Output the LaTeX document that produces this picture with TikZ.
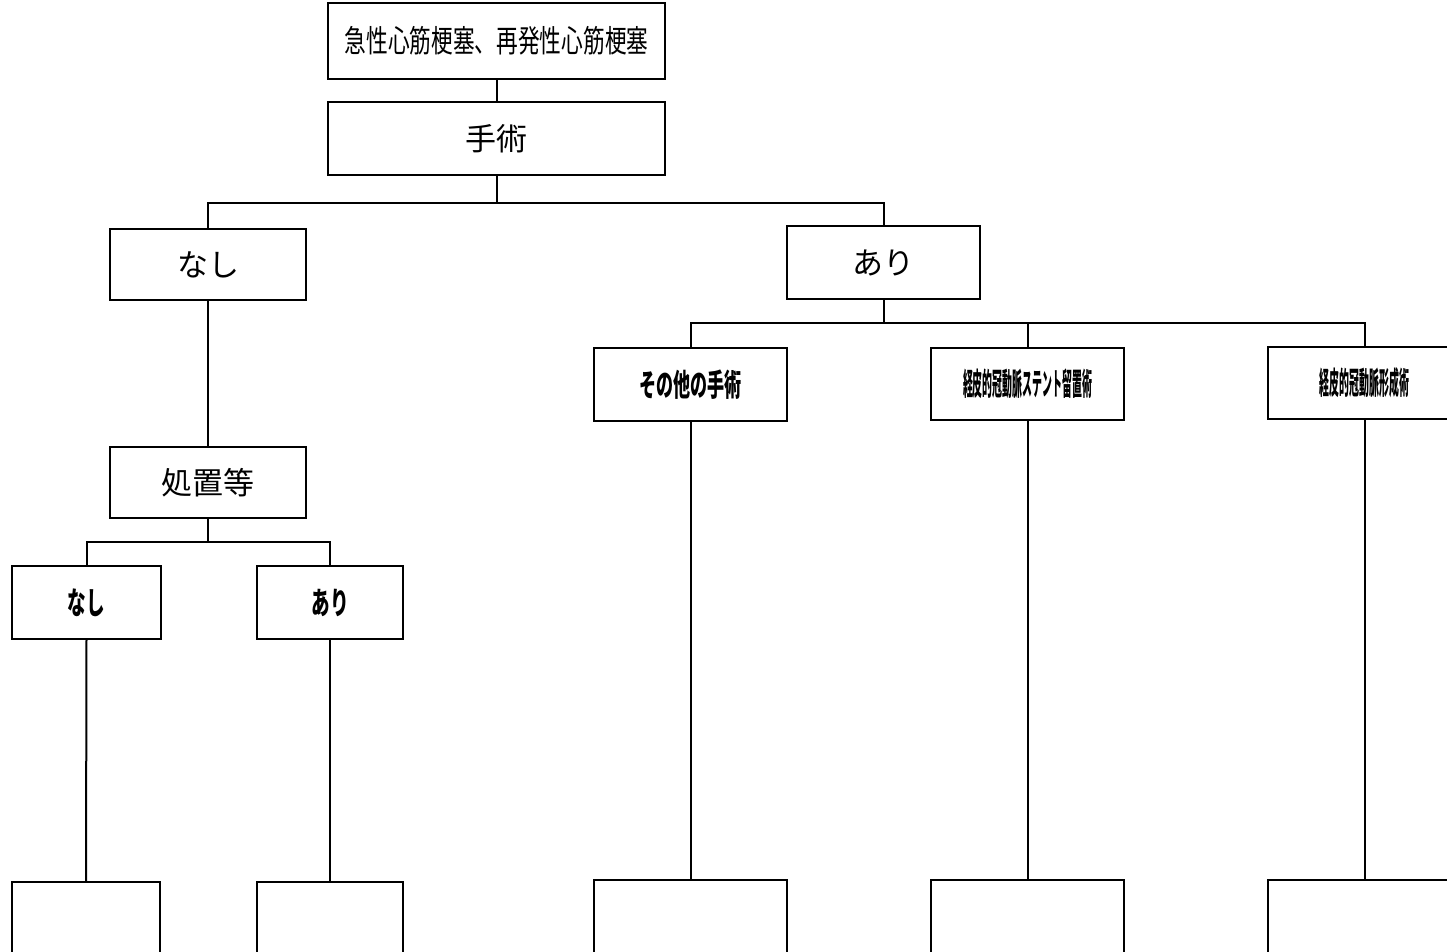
\documentclass[tikz,border=0pt]{standalone}
\usepackage{fontspec}
\newfontfamily\jp{Noto Sans CJK JP}
\begin{document}
\begin{tikzpicture}[x=1pt,y=-1pt,
  bx/.style={draw,line width=2pt,minimum width=#1,inner sep=0pt,font=\jp\fontsize{31}{31}\selectfont},
  bx/.default=193pt,
  ln/.style={line width=2pt}]
\useasboundingbox (0,0) rectangle (1447,951);
\clip (0,0) rectangle (1447,951);
% top
\node[bx=337pt,minimum height=76pt] (top) at (496.5,41) {\scalebox{0.7}[1]{急性心筋梗塞、再発性心筋梗塞}};
\node[bx=337pt,minimum height=73pt] (op) at (496.5,138.5) {手術};
\node[bx=196pt,minimum height=71pt] (n1) at (208,264.5) {なし};
\node[bx=193pt,minimum height=73pt] (a1) at (883.5,262.5) {あり};
\node[bx=196pt,minimum height=71pt] (sh) at (208,482.5) {処置等};
\node[bx=149pt,minimum height=73pt] (n2) at (86.5,602.5) {\bfseries\scalebox{0.6}[1]{なし}};
\node[bx=146pt,minimum height=73pt] (a2) at (330,602.5) {\bfseries\scalebox{0.6}[1]{あり}};
\node[bx=193pt,minimum height=73pt] (o1) at (690.5,384.5) {\bfseries\scalebox{0.55}[1]{その他の手術}};
\node[bx=193pt,minimum height=72pt] (o2) at (1027.5,384) {\bfseries\scalebox{0.32}[1]{経皮的冠動脈ステント留置術}};
\node[bx=193pt,minimum height=72pt] (o3) at (1364.5,383) {\bfseries\scalebox{0.32}[1]{経皮的冠動脈形成術}};
% bottom boxes (cut by the page edge)
\node[bx=148pt,minimum height=100pt] (b1) at (86,932) {};
\node[bx=146pt,minimum height=100pt] (b2) at (330,932) {};
\node[bx=193pt,minimum height=100pt] (b3) at (690.5,930) {};
\node[bx=193pt,minimum height=100pt] (b4) at (1027.5,930) {};
\node[bx=193pt,minimum height=100pt] (b5) at (1364.5,930) {};
% connectors
\draw[ln] (top.south) -- (op.north);
\coordinate (j1) at (496.5,203);
\draw[ln] (op.south) -- (j1);
\draw[ln] (n1.north) |- (j1) -| (a1.north);
\draw[ln] (n1.south) -- (sh.north);
\coordinate (j2) at (208,542);
\draw[ln] (sh.south) -- (j2);
\draw[ln] (n2.north) |- (j2) -| (a2.north);
\coordinate (j3) at (883.5,323);
\draw[ln] (a1.south) -- (j3);
\draw[ln] (o1.north) |- (j3) -| (o3.north);
\draw[ln] (o2.north) -- (o2.north |- j3);
\draw[ln] (n2.south) -- (b1.north);
\draw[ln] (a2.south) -- (b2.north);
\draw[ln] (o1.south) -- (b3.north);
\draw[ln] (o2.south) -- (b4.north);
\draw[ln] (o3.south) -- (b5.north);
\end{tikzpicture}
\end{document}
